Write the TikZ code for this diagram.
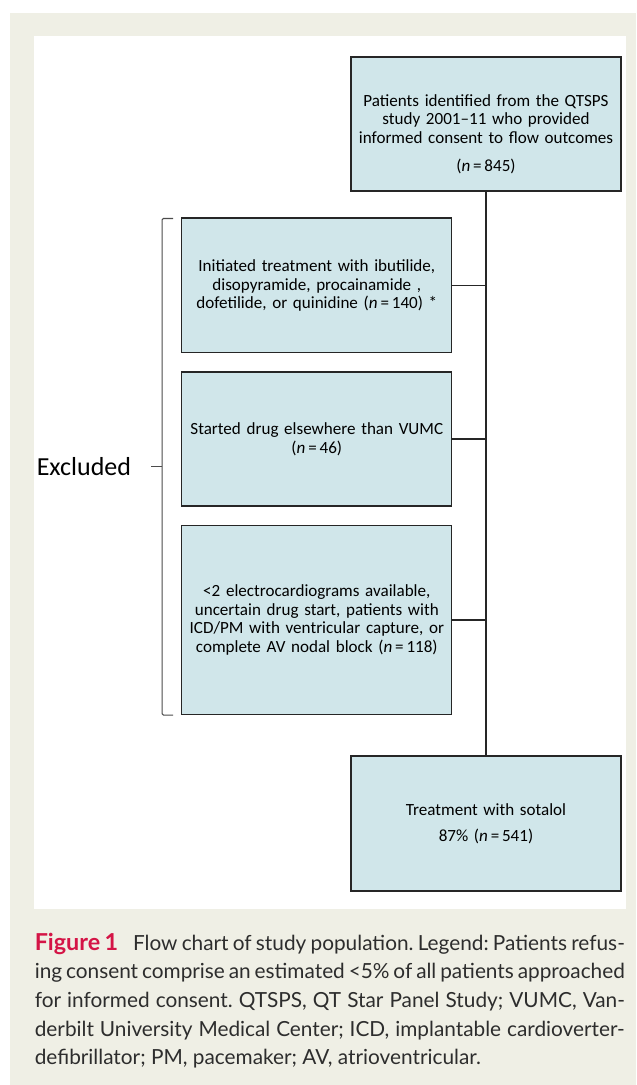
\documentclass[tikz,border=0pt]{standalone}
\usepackage{fontspec}
\setmainfont{Carlito}
\newfontfamily\captionfont{Lato}
\usetikzlibrary{positioning, calc}

\definecolor{boxfill}{RGB}{208,230,234}
\definecolor{pagebeige}{RGB}{239,239,229}
\definecolor{figred}{RGB}{212,20,70}
\definecolor{captext}{RGB}{45,45,45}

\begin{document}
\begin{tikzpicture}[
    x=1pt, y=1pt,
    node distance=13.5pt,
    every node/.style={align=center, inner sep=0pt},
    flowbox/.style={draw=black!85, line width=1pt, fill=boxfill,
        minimum width=202.5pt, text width=198pt,
        font=\fontsize{12.8}{13.8}\selectfont},
    link/.style={line width=1pt, black!85},
    brace/.style={line width=0.8pt, black!70}
]

% Page and panel
\useasboundingbox (0,0) rectangle (477,-813.75);
\fill[white] (0,0) rectangle (477,-813.75);
\fill[pagebeige] (7.5,-9.75) rectangle (477,-813.75);
\fill[white] (25.5,-27) rectangle (469.5,-681.75);

% Main column
\node[flowbox, minimum height=100.5pt] (pool) at (364.5,-93)
    {\rule{0pt}{24pt}Patients identified from the QTSPS\\ study 2001--11 who provided\\ informed consent to flow outcomes\\[7pt] (\textit{n}\,=\,845)};
\node[flowbox, minimum height=101.25pt] (sotalol) at (364.5,-617.6)
    {Treatment with sotalol\\[6pt] 87\% (\textit{n}\,=\,541)};

\draw[link] (pool) -- (sotalol);

% Excluded boxes
\node[flowbox, minimum height=101pt] (ex1) at (237.6,-214.1)
    {Initiated treatment with ibutilide,\\ disopyramide, procainamide ,\\ dofetilide, or quinidine (\textit{n}\,=\,140) *};
\node[flowbox, minimum height=100.5pt] (ex2) [below=of ex1]
    {Started drug elsewhere than VUMC\\ (\textit{n}\,=\,46)};
\node[flowbox, minimum height=141.75pt] (ex3) [below=of ex2]
    {{<}2 electrocardiograms available,\\ uncertain drug start, patients with\\ ICD/PM with ventricular capture, or\\ complete AV nodal block (\textit{n}\,=\,118)};

\draw[link] (ex1.east) -- (ex1.east -| pool.south);
\draw[link] (ex2.east) -- (ex2.east -| pool.south);
\draw[link] (ex3.east) -- (ex3.east -| pool.south);

% Bracket
\coordinate (brtop) at ([xshift=-14.25pt, yshift=-0.75pt]ex1.north west);
\coordinate (brbot) at ([xshift=-14.25pt]ex3.south west);
\coordinate (brmid) at ($(brtop)!0.5!(brbot)$);
\draw[brace, rounded corners=1pt] ([xshift=8.25pt]brtop) -- (brtop) -- (brbot) -- ([xshift=8.25pt]brbot);
\draw[brace] (brmid) -- ([xshift=-8.25pt]brmid);

\node[anchor=west, font=\fontsize{19.5}{22}\selectfont] (excl) at (27.4,0 |- brmid) {Excluded};

% Caption
\node[anchor=north west, align=justify, text width=442.5pt, text=captext,
    font=\captionfont\fontsize{15.6}{21.5}\selectfont] (caption) at (25.9,-699.5)
    {\frenchspacing{\color{figred}\fontsize{17.5}{21.5}\selectfont\bfseries Figure 1}\hspace{8pt} Flow chart of study population. Legend: Patients refus-\linebreak ing consent comprise an estimated <5\% of all patients approached\linebreak for informed consent. QTSPS, QT Star Panel Study; VUMC, Van-\linebreak derbilt University Medical Center; ICD, implantable cardioverter-\linebreak defibrillator; PM, pacemaker; AV, atrioventricular.\par};

\end{tikzpicture}
\end{document}
